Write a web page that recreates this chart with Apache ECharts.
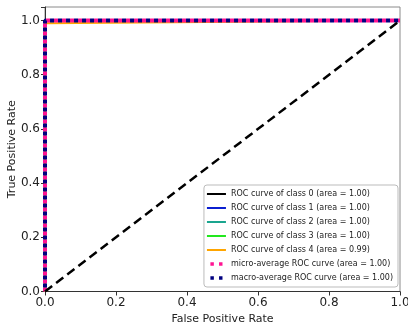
<!DOCTYPE html>
<html>
<head>
<meta charset="utf-8">
<script src="https://cdn.jsdelivr.net/npm/echarts@6/dist/echarts.min.js"></script>
<style>
  html, body { margin: 0; padding: 0; background: #fff; }
  #chart { width: 408px; height: 329px; }
</style>
</head>
<body>
<div id="chart"></div>
<script>
// ROC curve points
const classNames = ['class 0', 'class 1', 'class 2', 'class 3', 'class 4'];
const classAreas = ['1.00', '1.00', '1.00', '1.00', '0.99'];
const classColors = ['#000000', '#0b1fd0', '#1aa58f', '#22e81e', '#ffa500'];
const fprClass = [
  [0, 0, 1],
  [0, 0, 1],
  [0, 0, 1],
  [0, 0, 1],
  [0, 0, 1]
];
const tprClass = [
  [0, 1, 1],
  [0, 1, 1],
  [0, 1, 1],
  [0, 1, 1],
  [0, 0.99, 1]
];
const fprMicro = [0, 0, 1];
const tprMicro = [0, 1, 1];
const fprMacro = [0, 0, 1];
const tprMacro = [0, 1, 1];
const chanceX = [0, 1];
const chanceY = [0, 1];
const tickValues = [0, 0.2, 0.4, 0.6, 0.8, 1.0];

const pairs = (xs, ys) => xs.map((x, i) => [x, ys[i]]);

// legend glyphs: a short thick bar for solid curves, two squares for dotted ones
const barIcon = 'path://M0,0H0.01V0.01H0Z M22,8H21.99V7.99H22Z M0,2.8H22V5.2H0Z';
const dotIcon = 'path://M0,0H0.01V0.01H0Z M22,8H21.99V7.99H22Z M4,2H8V6H4Z M14,2H18V6H14Z';

const chart = echarts.init(document.getElementById('chart'));

const microName = 'micro-average ROC curve (area = 1.00)';
const macroName = 'macro-average ROC curve (area = 1.00)';
const classLabel = i => 'ROC curve of ' + classNames[i] + ' (area = ' + classAreas[i] + ')';

const series = [];
series.push({
  name: microName,
  type: 'line',
  data: pairs(fprMicro, tprMicro),
  symbol: 'none',
  z: 2,
  lineStyle: { color: '#ff1493', width: 4, type: [4, 4] },
  itemStyle: { color: '#ff1493' }
});
series.push({
  name: macroName,
  type: 'line',
  data: pairs(fprMacro, tprMacro),
  symbol: 'none',
  z: 2,
  lineStyle: { color: '#000080', width: 4, type: [4, 4], dashOffset: 4 },
  itemStyle: { color: '#000080' }
});
classNames.forEach((c, i) => {
  series.push({
    name: classLabel(i),
    type: 'line',
    data: pairs(fprClass[i], tprClass[i]),
    symbol: 'none',
    z: 1,
    lineStyle: { color: classColors[i], width: 2 },
    itemStyle: { color: classColors[i] }
  });
});
series.push({
  name: 'chance',
  type: 'line',
  data: pairs(chanceX, chanceY),
  symbol: 'none',
  z: 3,
  lineStyle: { color: '#000', width: 2.5, type: [9, 5] }
});

const legendData = classNames.map((c, i) => ({ name: classLabel(i), icon: barIcon }))
  .concat([{ name: microName, icon: dotIcon }, { name: macroName, icon: dotIcon }]);

const tickFmt = v => v.toFixed(1);

chart.setOption({
  animation: false,
  textStyle: { fontFamily: 'DejaVu Sans' },
  grid: {
    left: 45, right: 8, top: 7, bottom: 37.5,
    outerBoundsMode: 'none',
    containLabel: false,
    show: true, borderColor: '#8a8a8a', borderWidth: 1
  },
  legend: {
    data: legendData,
    orient: 'vertical',
    right: 10,
    bottom: 42,
    itemWidth: 19,
    itemHeight: 8,
    itemGap: 6,
    padding: [5, 5, 5, 3],
    backgroundColor: '#fff',
    borderColor: '#bbbbbb',
    borderWidth: 1,
    borderRadius: 3,
    textStyle: { fontSize: 8, color: '#222', fontFamily: 'DejaVu Sans' }
  },
  xAxis: {
    type: 'value',
    min: 0, max: 1, interval: 0.2,
    name: 'False Positive Rate',
    nameLocation: 'middle',
    nameGap: 22,
    nameMoveOverlap: false,
    nameTextStyle: { fontSize: 11, color: '#222' },
    axisLine: { lineStyle: { color: '#333' } },
    axisTick: { show: true, length: 4, lineStyle: { color: '#333' } },
    axisLabel: { fontSize: 12, color: '#222', formatter: tickFmt, margin: 5 },
    splitLine: { show: false }
  },
  yAxis: {
    type: 'value',
    min: 0, max: 1.05, interval: 0.2,
    name: 'True Positive Rate',
    nameLocation: 'middle',
    nameGap: 27,
    nameMoveOverlap: false,
    nameTextStyle: { fontSize: 11, color: '#222' },
    axisLine: { show: true, lineStyle: { color: '#333' } },
    axisTick: { show: true, length: 4, lineStyle: { color: '#333' } },
    axisLabel: {
      fontSize: 12, color: '#222', margin: 5,
      formatter: v => (tickValues.some(t => Math.abs(t - v) < 1e-9) ? tickFmt(v) : '')
    },
    splitLine: { show: false }
  },
  series: series
});
</script>
</body>
</html>
